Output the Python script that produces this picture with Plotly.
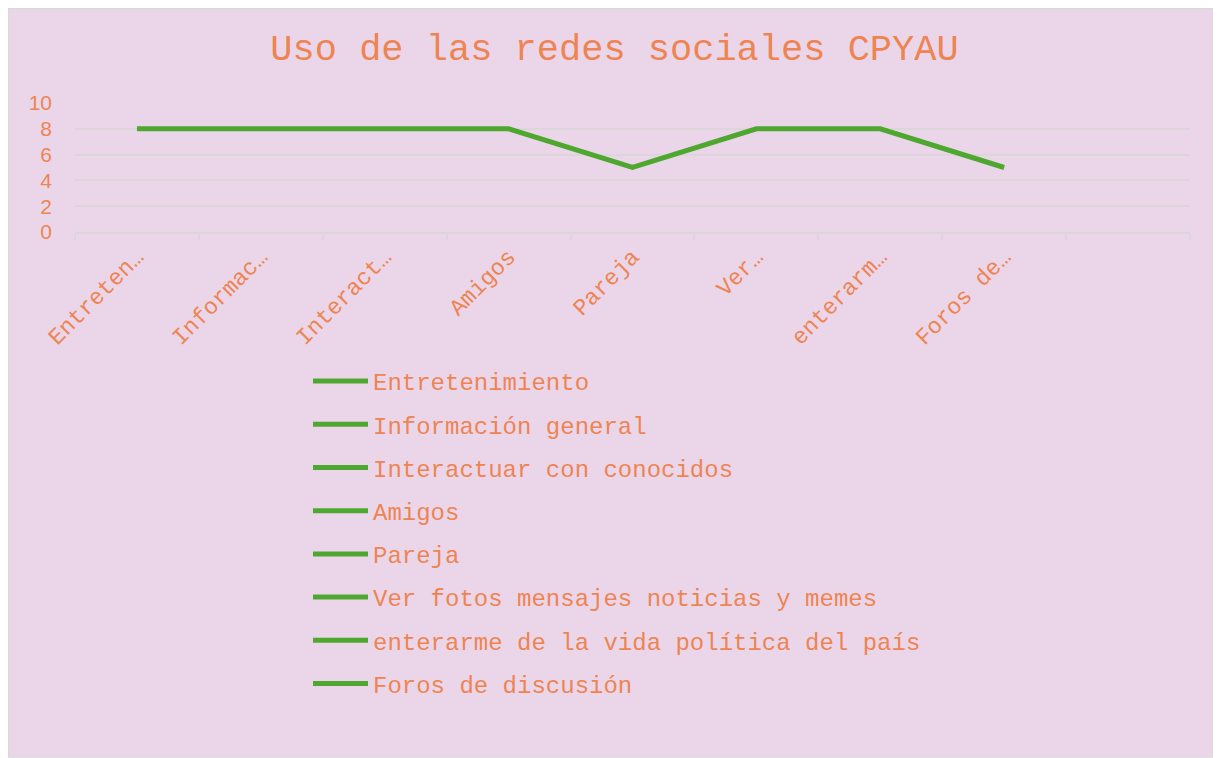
import plotly.graph_objects as go

categories = [
    "Entretenimiento",
    "Información general",
    "Interactuar con conocidos",
    "Amigos",
    "Pareja",
    "Ver fotos mensajes noticias y memes",
    "enterarme de la vida política del país",
    "Foros de discusión",
]
tick_labels = ["Entreten…", "Informac…", "Interact…", "Amigos", "Pareja", "Ver…", "enterarm…", "Foros de…"]
values = [8, 8, 8, 8, 5, 8, 8, 5]
n_slots = 9  # one extra empty category slot on the axis

ORANGE = "#EE8452"
GREEN = "#4EA72E"
BG = "#EBD6E9"
GRID = "#DCD6DC"
MONO = "Courier New, Nimbus Mono PS, FreeMono, Liberation Mono, monospace"
SANS = "Liberation Sans, Arial, sans-serif"

xs = list(range(len(values)))

fig = go.Figure()
fig.add_trace(go.Scatter(
    x=xs, y=values, mode="lines",
    line=dict(color=GREEN, width=5),
    showlegend=False, hoverinfo="skip",
))
for i, name in enumerate(categories):
    fig.add_trace(go.Scatter(
        x=[None], y=[None], mode="lines", name=name,
        line=dict(color=GREEN, width=5),
        legendgroup=f"g{i}", showlegend=True,
    ))

# page is offset by the default 8px body margin
OFF = 8
W, H = 1221 - OFF, 758 - OFF
L, R, T, B = 75 - OFF, 1190 - OFF, 103 - OFF, 232 - OFF
pw, ph = R - L, B - T

fig.update_layout(
    width=W, height=H,
    margin=dict(l=L, r=W - R, t=T, b=H - B, pad=0),
    paper_bgcolor="white",
    plot_bgcolor="rgba(0,0,0,0)",
    title=dict(
        text="Uso de las redes sociales CPYAU",
        font=dict(family=MONO, size=37, color=ORANGE),
        x=0.5, xanchor="center", xref="container",
        y=1 - 39 / H, yanchor="middle", yref="container",
    ),
    xaxis=dict(
        range=[-0.5, n_slots - 0.5],
        tickmode="array", tickvals=xs, ticktext=tick_labels,
        tickangle=-45, ticks="",
        tickfont=dict(family=MONO, size=23, color=ORANGE),
        showgrid=False, zeroline=False,
        showline=True, linecolor=GRID, linewidth=2,
        minor=dict(tickmode="array", tickvals=[k - 0.5 for k in range(n_slots + 1)],
                   ticks="outside", ticklen=6, tickcolor=GRID, tickwidth=2, showgrid=False),
        fixedrange=True,
    ),
    yaxis=dict(
        range=[0, 10], tickmode="array", tickvals=[0, 2, 4, 6, 8, 10],
        tickfont=dict(family=SANS, size=21, color=ORANGE),
        showgrid=True, gridcolor=GRID, gridwidth=2,
        zeroline=False, showline=False, ticks="",
        ticklabelstandoff=22,
        fixedrange=True,
    ),
    legend=dict(
        x=(308 - 75) / pw, xanchor="left",
        y=(232 - 359) / ph, yanchor="top",
        orientation="v", traceorder="grouped", tracegroupgap=9,
        font=dict(family=MONO, size=24, color=ORANGE),
        bgcolor="rgba(0,0,0,0)", itemwidth=55,
    ),
    shapes=[dict(
        type="rect", xref="paper", yref="paper", layer="below",
        x0=(0.5 - L) / pw, x1=(1205 - L) / pw,
        y0=(B - 749) / ph, y1=(B - 0.5) / ph,
        fillcolor=BG, line=dict(color="#D9D9D9", width=1.5),
    )],
)

fig.write_html("out.html")
